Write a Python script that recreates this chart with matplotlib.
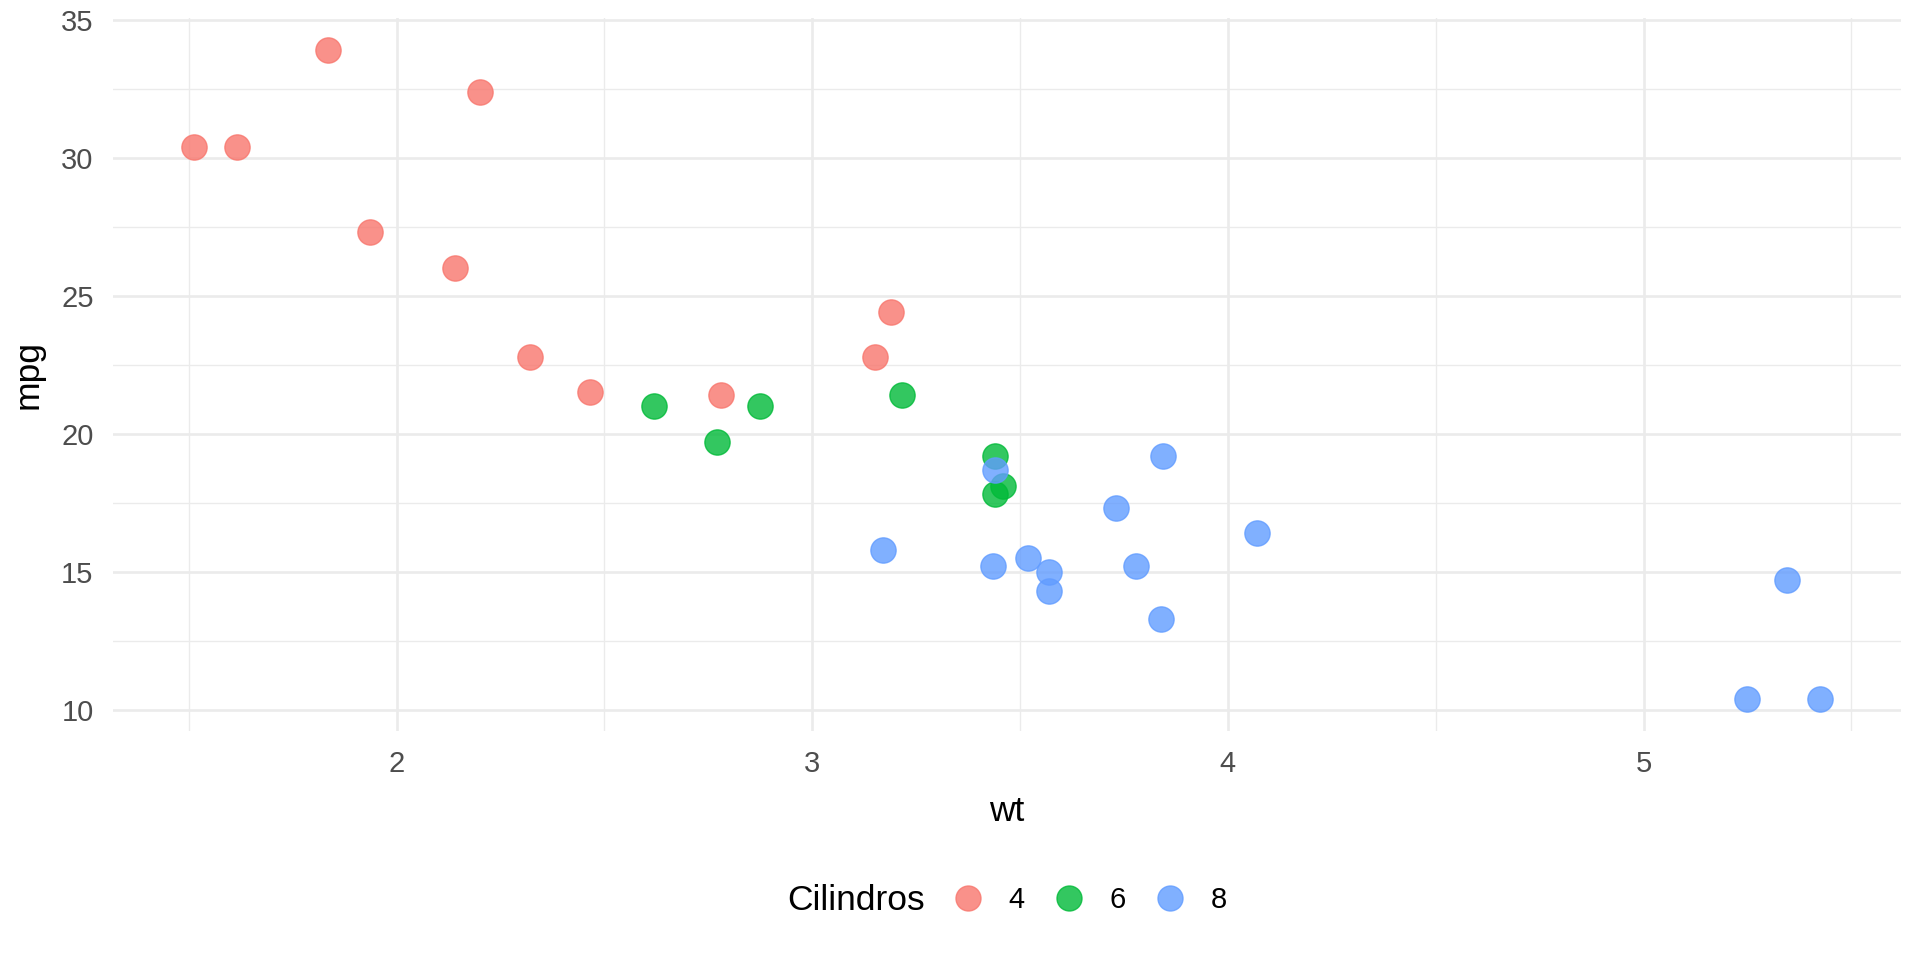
import matplotlib
matplotlib.use("Agg")
import matplotlib.pyplot as plt
from matplotlib.lines import Line2D
from matplotlib.ticker import MultipleLocator

plt.rcParams['font.family'] = ['Liberation Sans', 'DejaVu Sans']

wt = [2.620, 2.875, 2.320, 3.215, 3.440, 3.460, 3.570, 3.190, 3.150, 3.440,
      3.440, 4.070, 3.730, 3.780, 5.250, 5.424, 5.345, 2.200, 1.615, 1.835,
      2.465, 3.520, 3.435, 3.840, 3.845, 1.935, 2.140, 1.513, 3.170, 2.770,
      3.570, 2.780]
mpg = [21.0, 21.0, 22.8, 21.4, 18.7, 18.1, 14.3, 24.4, 22.8, 19.2,
       17.8, 16.4, 17.3, 15.2, 10.4, 10.4, 14.7, 32.4, 30.4, 33.9,
       21.5, 15.5, 15.2, 13.3, 19.2, 27.3, 26.0, 30.4, 15.8, 19.7,
       15.0, 21.4]
cyl = [6, 6, 4, 6, 8, 6, 8, 4, 4, 6,
       6, 8, 8, 8, 8, 8, 8, 4, 4, 4,
       4, 8, 8, 8, 8, 4, 4, 4, 8, 6,
       8, 4]
levels = [4, 6, 8]
colors = {4: '#F8766D', 6: '#00BA38', 8: '#619CFF'}
x_ticks = [2, 3, 4, 5]
y_ticks = [10, 15, 20, 25, 30, 35]

W, H = 1920, 960
fig = plt.figure(figsize=(W / 100, H / 100), dpi=100)
left, right, top, bottom = 113, 1901, 18, 731
ax = fig.add_axes([left / W, 1 - bottom / H, (right - left) / W, (bottom - top) / H])

xmin, xmax = min(wt), max(wt)
ymin, ymax = min(mpg), max(mpg)
dx, dy = (xmax - xmin) * 0.05, (ymax - ymin) * 0.05
ax.set_xlim(xmin - dx, xmax + dx)
ax.set_ylim(ymin - dy, ymax + dy)

for lv in levels:
    xs = [w for w, c in zip(wt, cyl) if c == lv]
    ys = [m for m, c in zip(mpg, cyl) if c == lv]
    ax.scatter(xs, ys, s=330, color=colors[lv], alpha=0.8, edgecolors=colors[lv],
               linewidths=1.0, zorder=3)

ax.set_xticks(x_ticks)
ax.set_yticks(y_ticks)
ax.xaxis.set_minor_locator(MultipleLocator(0.5))
ax.yaxis.set_minor_locator(MultipleLocator(2.5))
ax.grid(which='major', color='#EBEBEB', linewidth=1.9, zorder=0)
ax.grid(which='minor', color='#EBEBEB', linewidth=0.95, zorder=0)
ax.set_axisbelow(True)
for sp in ax.spines.values():
    sp.set_visible(False)
ax.tick_params(which='both', length=0)
ax.tick_params(axis='both', labelsize=21, labelcolor='#4D4D4D')
ax.tick_params(axis='x', pad=14)
ax.tick_params(axis='y', pad=14)

ax.set_xlabel('wt', fontsize=25.5, color='black', labelpad=12)
ax.set_ylabel('mpg', fontsize=25.5, color='black', labelpad=12)

handles = [Line2D([0], [0], marker='o', linestyle='none', markersize=18,
                  markerfacecolor=colors[lv], markeredgecolor=colors[lv],
                  markeredgewidth=1.0, alpha=0.8) for lv in levels]
fig.legend(handles, [str(lv) for lv in levels], loc='center',
           bbox_to_anchor=(1090 / W, 1 - 900 / H), ncol=3, frameon=False,
           fontsize=21, handlelength=1.0, handletextpad=0.9, columnspacing=1.0,
           borderpad=0, borderaxespad=0)
fig.text(787 / W, 1 - 900 / H, 'Cilindros', fontsize=25.5, va='center', ha='left',
         color='black')

fig.savefig('out.png', dpi=100, facecolor='white')
